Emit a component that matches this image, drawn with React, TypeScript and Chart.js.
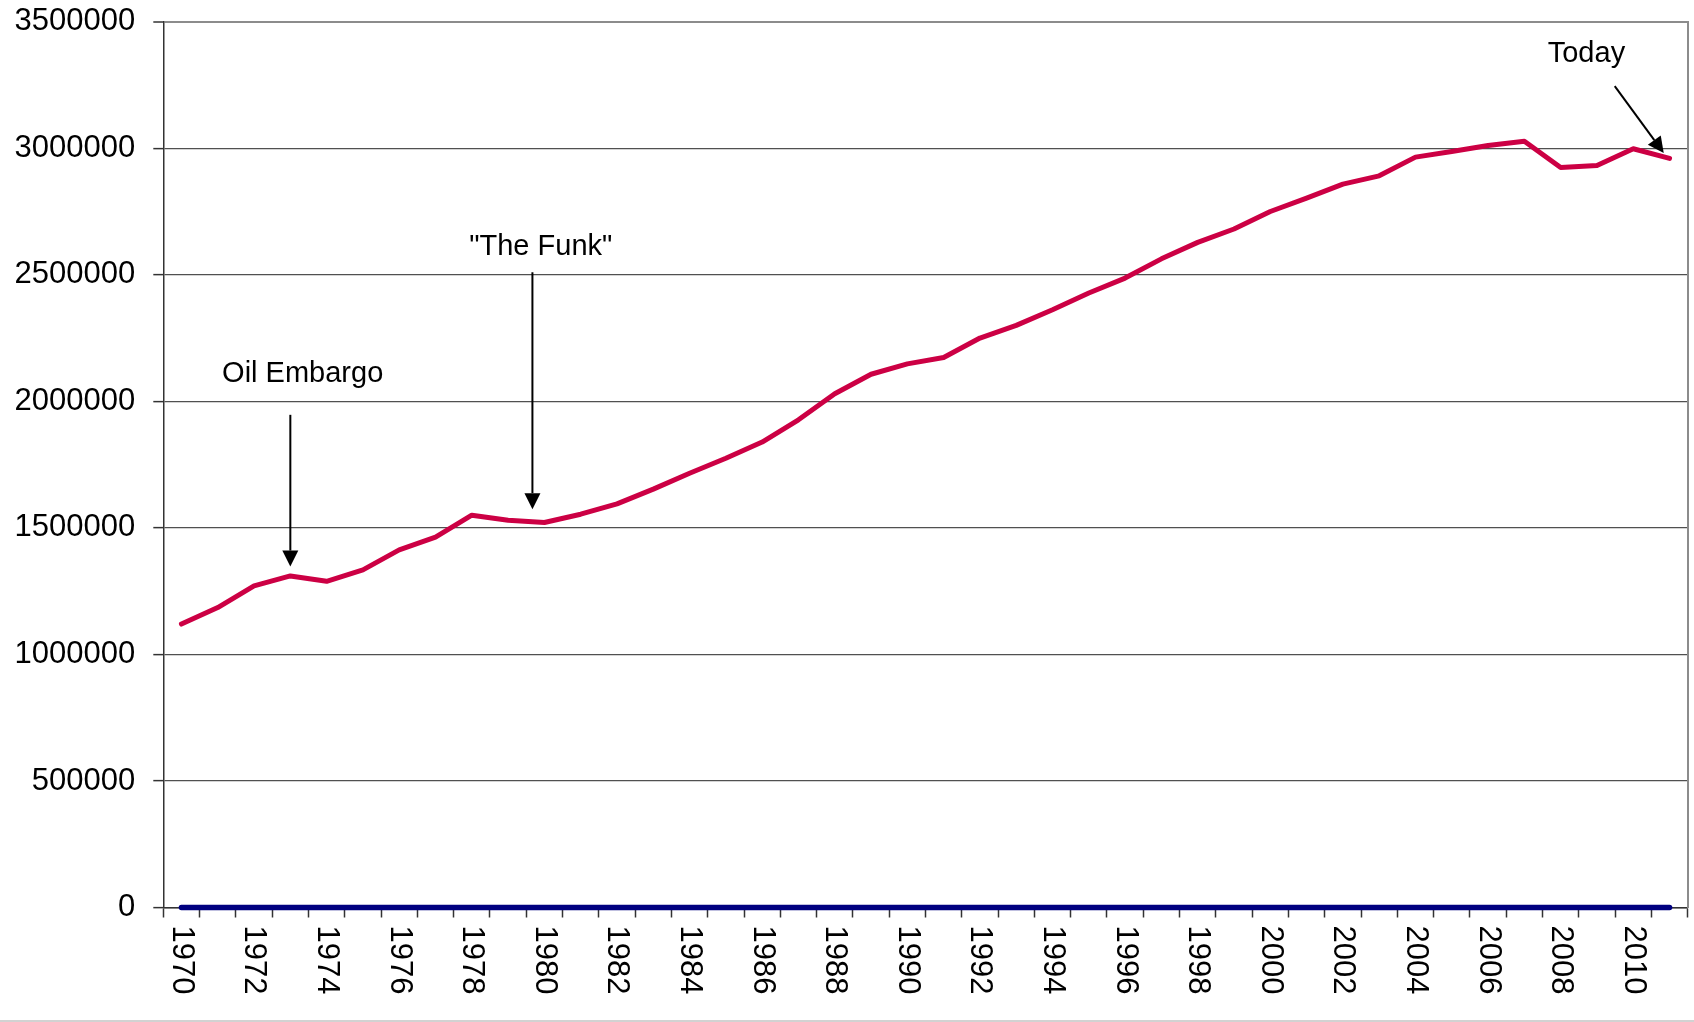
import { useEffect, useRef } from "react";
import { Chart, registerables } from "chart.js";

Chart.register(...registerables);

// Years on the category axis
const years = [
  "1970", "1971", "1972", "1973", "1974", "1975", "1976", "1977", "1978", "1979",
  "1980", "1981", "1982", "1983", "1984", "1985", "1986", "1987", "1988", "1989",
  "1990", "1991", "1992", "1993", "1994", "1995", "1996", "1997", "1998", "1999",
  "2000", "2001", "2002", "2003", "2004", "2005", "2006", "2007", "2008", "2009",
  "2010", "2011",
];

// Main series (red line)
const totalValues = [
  1120000, 1185000, 1271000, 1310000, 1289000, 1334000, 1413000, 1463000, 1550000, 1530000,
  1521000, 1554000, 1595000, 1653000, 1716000, 1775000, 1839000, 1927000, 2030000, 2107000,
  2148000, 2173000, 2250000, 2300000, 2362000, 2428000, 2487000, 2563000, 2628000, 2681000,
  2750000, 2803000, 2858000, 2891000, 2965000, 2987000, 3011000, 3028000, 2924000, 2932000,
  2998000, 2960000,
];

// Second series (navy line along zero)
const baselineValues = [
  0, 0, 0, 0, 0, 0, 0, 0, 0, 0,
  0, 0, 0, 0, 0, 0, 0, 0, 0, 0,
  0, 0, 0, 0, 0, 0, 0, 0, 0, 0,
  0, 0, 0, 0, 0, 0, 0, 0, 0, 0,
  0, 0,
];

// Value axis range
const yMin = 0;
const yMax = 3500000;
const yStep = 500000;

// Callouts: text, text anchor (category index, value), arrow tail and arrow tip
const calloutTexts = ["Oil Embargo", "\"The Funk\"", "Today"];
const calloutTextAt = [
  [3.34, 2109500],
  [9.9, 2609000],
  [38.71, 3373500],
];
const calloutArrowFrom = [
  [3, 1946700],
  [9.67, 2510000],
  [39.49, 3245500],
];
const calloutArrowTo = [
  [3, 1347000],
  [9.67, 1574000],
  [40.84, 2981000],
];

const FONT_FAMILY = '"Liberation Sans", Arial, Helvetica, sans-serif';

const yearLabelsPlugin = {
  id: "yearLabels",
  afterDraw(chart: any) {
    const xs = chart.scales.x;
    const ctx = chart.ctx;
    ctx.save();
    ctx.fillStyle = "#000000";
    ctx.font = `31px ${FONT_FAMILY}`;
    ctx.textAlign = "left";
    ctx.textBaseline = "middle";
    xs.ticks.forEach((tick: any, i: number) => {
      if (i % 2 !== 0) return;
      const x = xs.getPixelForValue(i);
      ctx.save();
      ctx.translate(x, xs.top + 18);
      ctx.rotate(Math.PI / 2);
      ctx.fillText(xs.getLabelForValue(tick.value), 0, 0);
      ctx.restore();
    });
    ctx.restore();
  },
};

const calloutsPlugin = {
  id: "callouts",
  afterDraw(chart: any) {
    const xs = chart.scales.x;
    const ys = chart.scales.y;
    const ctx = chart.ctx;
    ctx.save();
    ctx.fillStyle = "#000000";
    ctx.strokeStyle = "#000000";
    ctx.font = `29px ${FONT_FAMILY}`;
    ctx.textAlign = "center";
    ctx.textBaseline = "middle";
    calloutTexts.forEach((text, i) => {
      const [ti, tv] = calloutTextAt[i];
      ctx.fillText(text, xs.getPixelForValue(ti), ys.getPixelForValue(tv));

      const [fi, fv] = calloutArrowFrom[i];
      const [ei, ev] = calloutArrowTo[i];
      const x0 = xs.getPixelForValue(fi);
      const y0 = ys.getPixelForValue(fv);
      const x1 = xs.getPixelForValue(ei);
      const y1 = ys.getPixelForValue(ev);
      const ang = Math.atan2(y1 - y0, x1 - x0);
      const headLen = 16;
      const headHalf = 8;
      const bx = x1 - headLen * Math.cos(ang);
      const by = y1 - headLen * Math.sin(ang);

      ctx.lineWidth = 2;
      ctx.beginPath();
      ctx.moveTo(x0, y0);
      ctx.lineTo(bx, by);
      ctx.stroke();

      ctx.beginPath();
      ctx.moveTo(x1, y1);
      ctx.lineTo(bx + headHalf * Math.sin(ang), by - headHalf * Math.cos(ang));
      ctx.lineTo(bx - headHalf * Math.sin(ang), by + headHalf * Math.cos(ang));
      ctx.closePath();
      ctx.fill();
    });
    ctx.restore();
  },
};

export default function App() {
  const canvasRef = useRef<HTMLCanvasElement | null>(null);

  useEffect(() => {
    const canvas = canvasRef.current;
    if (!canvas) return;

    const chart = new Chart(canvas, {
      type: "line",
      data: {
        labels: years,
        datasets: [
          {
            label: "Total",
            data: totalValues,
            borderColor: "#CC0044",
            backgroundColor: "#CC0044",
            borderWidth: 5,
            pointRadius: 0,
            tension: 0,
            borderCapStyle: "round",
            borderJoinStyle: "round",
            clip: false,
          },
          {
            label: "Baseline",
            data: baselineValues,
            borderColor: "#000080",
            backgroundColor: "#000080",
            borderWidth: 5.5,
            pointRadius: 0,
            tension: 0,
            borderCapStyle: "round",
            clip: false,
          },
        ],
      },
      options: {
        responsive: false,
        animation: false,
        devicePixelRatio: 1,
        layout: {
          padding: { left: 0, right: 6.3, top: 21.7, bottom: 0 },
        },
        plugins: {
          legend: { display: false },
          tooltip: { enabled: false },
        },
        scales: {
          x: {
            type: "category",
            offset: true,
            grid: {
              offset: true,
              drawOnChartArea: false,
              drawTicks: true,
              tickLength: 10,
              tickColor: "#333333",
              tickWidth: 1.5,
            },
            border: { display: true, color: "#333333", width: 1.5 },
            ticks: { display: false, autoSkip: false },
            afterFit(scale: any) {
              scale.height = 112.5;
              scale.paddingLeft = 0;
              scale.paddingRight = 0;
            },
          },
          y: {
            type: "linear",
            position: "left",
            min: yMin,
            max: yMax,
            grid: {
              color: (c: any) => (c.tick && c.tick.value === yMax ? "#8c8c8c" : "#505050"),
              lineWidth: (c: any) => (c.tick && c.tick.value === yMax ? 2 : 1.25),
              drawTicks: true,
              tickLength: 10,
              tickColor: "#333333",
              tickWidth: 1.5,
            },
            border: { display: true, color: "#333333", width: 1.5 },
            ticks: {
              stepSize: yStep,
              color: "#000000",
              padding: 18,
              font: { family: FONT_FAMILY, size: 31 },
              callback: (v: any) => String(v),
            },
            afterFit(scale: any) {
              scale.width = 163.3;
              scale.paddingTop = 0;
              scale.paddingBottom = 0;
            },
          },
          y2: {
            type: "linear",
            position: "right",
            grid: { display: false, drawOnChartArea: false, drawTicks: false, tickLength: 0 },
            ticks: { display: false },
            border: { display: true, color: "#8c8c8c", width: 2 },
            afterFit(scale: any) {
              scale.width = 0;
              scale.paddingTop = 0;
              scale.paddingBottom = 0;
            },
          },
        },
      },
      plugins: [yearLabelsPlugin, calloutsPlugin],
    } as any);

    return () => {
      chart.destroy();
    };
  }, []);

  return (
    <div
      style={{
        position: "absolute",
        left: 0,
        top: 0,
        width: 1694,
        height: 1022,
        background: "#ffffff",
      }}
    >
      <canvas
        ref={canvasRef}
        width={1694}
        height={1020}
        style={{ display: "block", width: 1694, height: 1020 }}
      />
      <div style={{ width: 1694, height: 2, background: "#d2d2d2" }} />
    </div>
  );
}
